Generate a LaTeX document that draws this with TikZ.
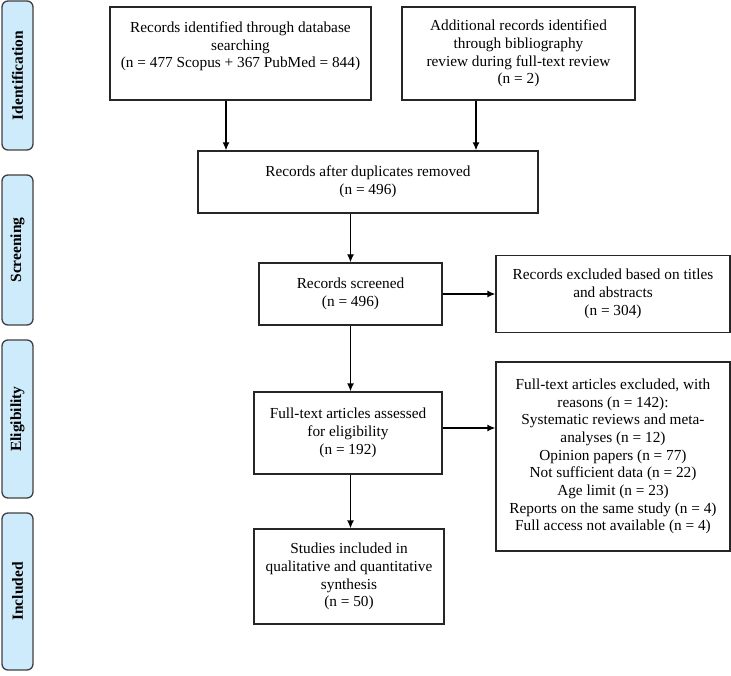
\documentclass[tikz,border=0pt]{standalone}
\usepackage{fontspec}
\setmainfont{Liberation Serif}
\usetikzlibrary{arrows,arrows.meta,shapes,positioning}
\definecolor{phaseblue}{RGB}{206,235,251}

\begin{document}
\begin{tikzpicture}[x=1pt, y=-1pt, >={Latex[length=8pt,width=7pt]}, font=\fontsize{15.3}{17.7}\selectfont]
\tikzstyle{phase} = [rectangle, rounded corners=6pt, draw=black!75, fill=phaseblue, line width=1.3pt, rotate=90, minimum height=31pt, inner sep=0pt, font=\fontsize{15.5}{17}\selectfont\bfseries]
\tikzstyle{record} = [rectangle, draw=black!85, line width=1.3pt, align=center, inner sep=2pt]
\tikzstyle{link} = [->, line width=1.3pt]
\useasboundingbox (0,0) rectangle (731,676);
% phases
\node (ident) [phase, minimum width=149pt] at (17.5,75.5) {Identification};
\node (screen) [phase, minimum width=150pt] at (17.5,250) {Screening};
\node (elig) [phase, minimum width=158pt] at (17.5,419) {Eligibility};
\node (incl) [phase, minimum width=157pt] at (17.5,591.5) {Included};
% boxes
\node (db) [record, minimum width=261pt, minimum height=93pt] at (240.5,53.5) {Records identified through database\\searching\\(n = 477 Scopus + 367 PubMed = 844)\\\mbox{}};
\node (extra) [record, minimum width=233pt, minimum height=93pt] at (518.5,53.5) {Additional records identified\\through bibliography\\review during full-text review\\(n = 2)};
\node (dup) [record, minimum width=340pt, minimum height=62pt] at (368,182) {Records after duplicates removed\\(n = 496)};
\node (scr) [record, minimum width=183pt, minimum height=62pt] at (350.5,294) {Records screened\\(n = 496)};
\node (exA) [record, minimum width=234pt, minimum height=77pt] at (613,294) {Records excluded based on titles\\and abstracts\\(n = 304)};
\node (full) [record, minimum width=188pt, minimum height=82pt] at (348,433) {Full-text articles assessed\\for eligibility\\(n = 192)};
\node (exB) [record, minimum width=234pt, minimum height=189pt] at (613,456.5) {Full-text articles excluded, with\\reasons (n = 142):\\Systematic reviews and meta-\\analyses (n = 12)\\Opinion papers (n = 77)\\Not sufficient data (n = 22)\\Age limit (n = 23)\\Reports on the same study (n = 4)\\Full access not available (n = 4)};
\node (stud) [record, minimum width=190pt, minimum height=95pt] at (349,576.5) {Studies included in\\qualitative and quantitative\\synthesis\\(n = 50)};
% arrows
\draw [link] ([xshift=-14.5pt]db.south) -- ([xshift=-14.5pt]db.south |- dup.north);
\draw [link] ([xshift=-42.5pt]extra.south) -- ([xshift=-42.5pt]extra.south |- dup.north);
\draw [link] (scr.north |- dup.south) -- (scr.north);
\draw [link] (scr.east) -- (scr.east -| exA.west);
\draw [link] (scr.south) -- (scr.south |- full.north);
\draw [link] ([yshift=5pt]full.east) -- ([yshift=5pt]full.east -| exB.west);
\draw [link] (scr.south |- full.south) -- (scr.south |- stud.north);
\end{tikzpicture}
\end{document}
